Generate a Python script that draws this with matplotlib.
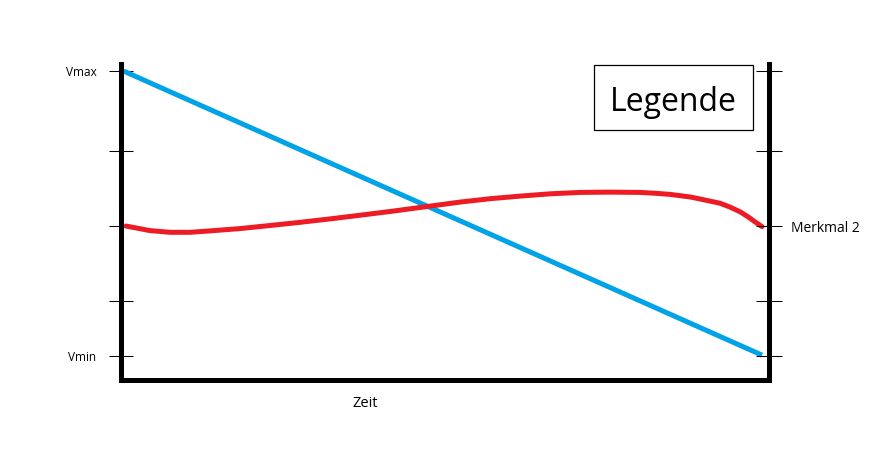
import matplotlib
matplotlib.use("Agg")
import matplotlib.pyplot as plt
from matplotlib.patches import Rectangle

# ---- data (time 0..100, value: Vmin=0, Vmax=100) ----
blue_t = [0.3, 99.0]
blue_v = [100.0, 0.3]

red_t = [0.7, 4.4, 7.5, 10.6, 13.7, 18.3, 23.0, 27.6, 32.2, 36.9, 41.5, 46.1,
         52.3, 57.0, 61.6, 66.2, 70.9, 75.5, 80.1, 82.5, 84.8, 87.9, 89.4, 92.5,
         94.0, 95.6, 96.8, 97.9, 99.0]
red_v = [45.6, 44.0, 43.4, 43.4, 43.9, 44.7, 45.8, 46.9, 48.1, 49.4, 50.7, 52.1,
         54.0, 55.2, 56.1, 56.9, 57.4, 57.5, 57.4, 57.1, 56.7, 55.8, 55.1, 53.6,
         52.3, 50.6, 48.9, 47.1, 45.4]

tick_vals = [100.0, 71.9, 45.6, 19.3, 0.0]
left_labels = ["Vmax", "", "", "", "Vmin"]
right_labels = ["", "", "Merkmal 2", "", ""]
x_label = "Zeit"
legend_text = "Legende"

W, H = 893, 468
fig = plt.figure(figsize=(W / 100, H / 100), dpi=100)
plt.rcParams['font.family'] = ['Open Sans', 'DejaVu Sans']

px = 2.85  # pixels per value unit
left_px, right_px, top_px, bot_px = 121.5, 768.5, 63.5, 379.5
ax = fig.add_axes([left_px / W, 1 - bot_px / H, (right_px - left_px) / W, (bot_px - top_px) / H])
ax.set_xlim(0, 100)
ax.set_ylim((356 - bot_px) / px, (356 - top_px) / px)

for s in ["left", "right", "bottom"]:
    ax.spines[s].set_linewidth(3.6)
    ax.spines[s].set_color("black")
    ax.spines[s].set_capstyle("projecting")
ax.spines["top"].set_visible(False)

ax.plot(blue_t, blue_v, color="#00A2E8", lw=3.6, solid_capstyle="butt", clip_on=False)
ax.plot(red_t, red_v, color="#ED1C24", lw=3.6, solid_capstyle="round",
        solid_joinstyle="round", clip_on=False)

ax.set_xticks([])
ax.set_yticks(tick_vals)
ax.set_yticklabels(left_labels, fontsize=8.5)
ax.tick_params(axis="y", direction="inout", length=17.3, width=0.75, pad=9.5, colors="black")

ax2 = ax.twinx()
ax2.set_ylim(ax.get_ylim())
ax2.set_yticks(tick_vals)
ax2.set_yticklabels(right_labels, fontsize=10)
ax2.tick_params(axis="y", direction="inout", length=19.4, width=0.75, pad=6.8, colors="black")
for s in ax2.spines.values():
    s.set_visible(False)

fig.text(365.5 / W, 1 - 407 / H, x_label, fontsize=10.5, ha="center", va="baseline")

fig.patches.append(Rectangle((594 / W, 1 - 130 / H), (753 - 594) / W, (130 - 65) / H,
                             transform=fig.transFigure, fill=False, edgecolor="black", lw=0.9))
fig.text(673.5 / W, 1 - 111 / H, legend_text, fontsize=23, ha="center", va="baseline")

fig.savefig("out.png", dpi=100)
